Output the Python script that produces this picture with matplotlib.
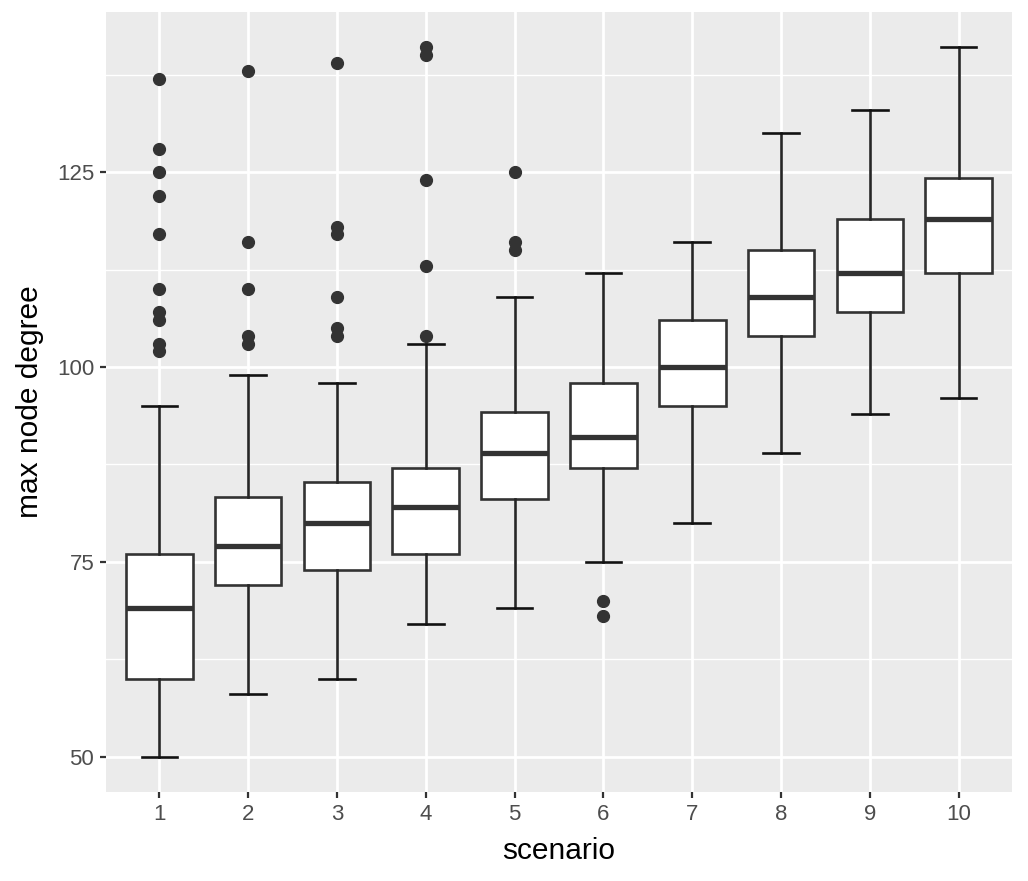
import numpy as np
import matplotlib
matplotlib.use("Agg")
import matplotlib.pyplot as plt

plt.rcParams['font.family'] = ['Liberation Sans', 'DejaVu Sans']

# box statistics, one entry per scenario
scenarios = [1, 2, 3, 4, 5, 6, 7, 8, 9, 10]
whisk_lo = [50, 58, 60, 67, 69, 75, 80, 89, 94, 96]
q1 = [60, 72, 74, 76, 83, 87, 95, 104, 107, 112]
median = [69, 77, 80, 82, 89, 91, 100, 109, 112, 119]
q3 = [76, 83.25, 85.25, 87, 94.25, 98, 106, 115, 119, 124.25]
whisk_hi = [95, 99, 98, 103, 109, 112, 116, 130, 133, 141]
outliers = [
    [137, 128, 125, 122, 117, 110, 107, 106, 103, 102],
    [138, 116, 110, 104, 103],
    [139, 118, 117, 109, 105, 104],
    [141, 140, 124, 113, 104],
    [125, 116, 115],
    [70, 68],
    [], [], [], [],
]

stats = []
for i in range(len(scenarios)):
    stats.append(dict(med=median[i], q1=q1[i], q3=q3[i],
                      whislo=whisk_lo[i], whishi=whisk_hi[i],
                      fliers=outliers[i]))

fig = plt.figure(figsize=(10.28, 8.81), dpi=100)
ax = fig.add_axes([106 / 1028, 1 - 792 / 881, 906 / 1028, 780 / 881])
ax.set_facecolor('#EBEBEB')

# grid (ggplot-like): minor thin, major thicker
for v in [62.5, 87.5, 112.5, 137.5]:
    ax.axhline(v, color='white', lw=1.0, zorder=0)
for v in [50, 75, 100, 125]:
    ax.axhline(v, color='white', lw=2.0, zorder=0)
for s in scenarios:
    ax.axvline(s, color='white', lw=2.0, zorder=0)

dark = '#262626'
ax.bxp(stats, positions=scenarios, widths=0.75, capwidths=0.4,
       patch_artist=True, showfliers=True,
       boxprops=dict(facecolor='white', edgecolor='#333333', linewidth=1.9),
       medianprops=dict(color='#333333', linewidth=3.8, solid_capstyle='butt'),
       whiskerprops=dict(color=dark, linewidth=1.9),
       capprops=dict(color='#111111', linewidth=1.9),
       flierprops=dict(marker='o', markerfacecolor='#333333',
                       markeredgecolor='#333333', markersize=8.5),
       zorder=3)

ax.set_xlim(0.4, 10.6)
ax.set_ylim(45.45, 145.55)
ax.set_yticks([50, 75, 100, 125])
ax.set_xticks(scenarios)
ax.set_xticklabels([str(s) for s in scenarios])
for sp in ax.spines.values():
    sp.set_visible(False)
ax.tick_params(axis='both', colors='#333333', labelcolor='#4D4D4D',
               labelsize=16, length=4.5, width=1.6, pad=4)
ax.set_xlabel('scenario', fontsize=21.5, color='black', labelpad=9)
ax.set_ylabel('max node degree', fontsize=21.5, color='black', labelpad=9)

fig.savefig('out.png', dpi=100)
